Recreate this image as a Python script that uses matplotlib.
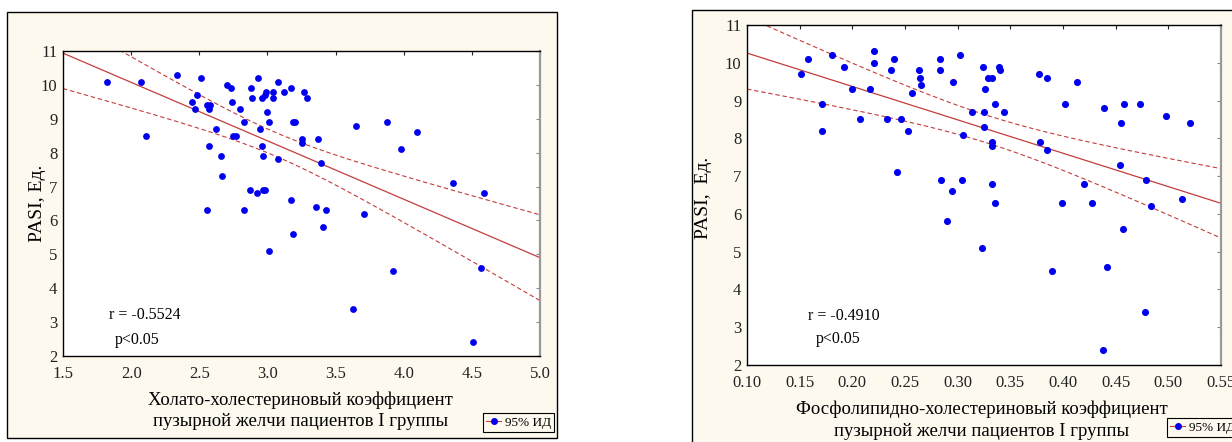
import numpy as np
import matplotlib
matplotlib.use("Agg")
import matplotlib.pyplot as plt
from matplotlib.patches import Rectangle
from matplotlib.lines import Line2D

plt.rcParams['font.family'] = ['Liberation Serif', 'DejaVu Serif']

# Левая панель: холато-холестериновый коэффициент / PASI
chol_x = [1.82, 2.07, 2.11, 2.34, 2.51, 2.45, 2.48, 2.47, 2.56, 2.58,
          2.57, 2.62, 2.57, 2.66, 2.67, 2.70, 2.73, 2.74, 2.80, 2.83,
          2.75, 2.77, 2.88, 2.89, 2.93, 2.945, 2.96, 2.97, 2.96, 2.98,
          2.99, 3.00, 3.01, 3.04, 3.04, 3.08, 3.08, 3.12, 3.17, 3.19,
          3.20, 3.17, 3.25, 3.25, 3.27, 3.29, 3.37, 3.39, 3.36, 2.87,
          2.92, 2.97, 2.98, 2.56, 2.83, 3.65, 3.88, 4.10, 3.98, 4.36,
          4.59, 3.43, 3.71, 3.41, 3.92, 3.63, 4.57, 4.51, 3.19, 3.01]
chol_pasi = [10.1, 10.1, 8.5, 10.3, 10.2, 9.5, 9.7, 9.3, 9.4, 9.4,
             9.3, 8.7, 8.2, 7.9, 7.3, 10.0, 9.9, 9.5, 9.3, 8.9,
             8.5, 8.5, 9.9, 9.6, 10.2, 8.7, 8.2, 7.9, 9.6, 9.7,
             9.8, 9.2, 8.9, 9.8, 9.6, 10.1, 7.8, 9.8, 9.9, 8.9,
             8.9, 6.6, 8.4, 8.3, 9.8, 9.6, 8.4, 7.7, 6.4, 6.9,
             6.8, 6.9, 6.9, 6.3, 6.3, 8.8, 8.9, 8.6, 8.1, 7.1,
             6.8, 6.3, 6.2, 5.8, 4.5, 3.4, 4.6, 2.4, 5.6, 5.1]

# Правая панель: фосфолипидно-холестериновый коэффициент / PASI
phos_x = [0.151, 0.158, 0.171, 0.171, 0.181, 0.192, 0.200, 0.207, 0.217, 0.221,
          0.221, 0.233, 0.237, 0.240, 0.242, 0.246, 0.253, 0.257, 0.263, 0.264,
          0.265, 0.283, 0.283, 0.284, 0.295, 0.296, 0.302, 0.304, 0.305, 0.290,
          0.324, 0.339, 0.340, 0.329, 0.333, 0.326, 0.314, 0.325, 0.335, 0.344,
          0.325, 0.333, 0.333, 0.377, 0.385, 0.413, 0.402, 0.439, 0.458, 0.473,
          0.455, 0.498, 0.521, 0.378, 0.385, 0.454, 0.479, 0.333, 0.335, 0.399,
          0.428, 0.420, 0.484, 0.513, 0.457, 0.323, 0.390, 0.442, 0.478, 0.438]
phos_pasi = [9.7, 10.1, 8.9, 8.2, 10.2, 9.9, 9.3, 8.5, 9.3, 10.3,
             10.0, 8.5, 9.8, 10.1, 7.1, 8.5, 8.2, 9.2, 9.8, 9.6,
             9.4, 10.1, 9.8, 6.9, 6.6, 9.5, 10.2, 6.9, 8.1, 5.8,
             9.9, 9.9, 9.8, 9.6, 9.6, 9.3, 8.7, 8.7, 8.9, 8.7,
             8.3, 7.9, 7.8, 9.7, 9.6, 9.5, 8.9, 8.8, 8.9, 8.9,
             8.4, 8.6, 8.4, 7.9, 7.7, 7.3, 6.9, 6.8, 6.3, 6.3,
             6.3, 6.8, 6.2, 6.4, 5.6, 5.1, 4.5, 4.6, 3.4, 2.4]

chol_ticks = [1.5, 2.0, 2.5, 3.0, 3.5, 4.0, 4.5, 5.0]
phos_ticks = [0.10, 0.15, 0.20, 0.25, 0.30, 0.35, 0.40, 0.45, 0.50, 0.55]
pasi_ticks = [2, 3, 4, 5, 6, 7, 8, 9, 10, 11]

W, H = 1232, 442
CREAM = '#fdf9ef'
DOT = '#0000ee'
LINE = '#c43c3c'
T975 = 1.995  # t(0.975, df=68)


def fx(px):
    return px / W


def fy(py):
    return 1 - py / H


def regression(ax, x, y, xlim):
    x = np.asarray(x)
    y = np.asarray(y)
    b, a = np.polyfit(x, y, 1)
    n = len(x)
    resid = y - (a + b * x)
    s = np.sqrt(np.sum(resid ** 2) / (n - 2))
    sxx = np.sum((x - x.mean()) ** 2)
    xs = np.linspace(xlim[0], xlim[1], 200)
    yh = a + b * xs
    half = T975 * s * np.sqrt(1 / n + (xs - x.mean()) ** 2 / sxx)
    ax.plot(xs, yh, color=LINE, lw=0.9, zorder=2)
    ax.plot(xs, yh + half, color=LINE, lw=0.8, ls=(0, (4, 2.5)), zorder=2)
    ax.plot(xs, yh - half, color=LINE, lw=0.8, ls=(0, (4, 2.5)), zorder=2)


def style_axes(ax, xticks, fmt):
    ax.set_zorder(2)
    ax.set_facecolor('white')
    ax.set_ylim(2, 11)
    ax.set_yticks(pasi_ticks)
    ax.set_xticks(xticks)
    ax.set_xticklabels([fmt.format(t) for t in xticks])
    ax.tick_params(top=True, right=True, bottom=False, left=False,
                   direction='in', length=3, width=0.8, labelsize=12,
                   colors='#222222')
    ax.tick_params(axis='x', pad=7)
    ax.tick_params(axis='y', pad=4, color='#888888')
    for side in ['left', 'bottom', 'top']:
        ax.spines[side].set_color('black')
        ax.spines[side].set_linewidth(1.0)
    ax.spines['right'].set_color('#999999')
    ax.spines['right'].set_linewidth(1.6)


fig = plt.figure(figsize=(W / 100, H / 100), dpi=100)
fig.patch.set_facecolor('white')

# рамки панелей
fig.patches.append(Rectangle((fx(7), fy(438)), fx(550), 426 / H, transform=fig.transFigure,
                             facecolor=CREAM, edgecolor='black', lw=1.0, zorder=-1))
fig.patches.append(Rectangle((fx(692), fy(452)), fx(560), 442 / H, transform=fig.transFigure,
                             facecolor=CREAM, edgecolor='black', lw=1.0, zorder=-1))

# левая панель
ax1 = fig.add_axes([fx(63), fy(356), fx(477), 305 / H])
ax1.set_xlim(1.5, 5.0)
regression(ax1, chol_x, chol_pasi, (1.5, 5.0))
ax1.scatter(chol_x, chol_pasi, s=24, color=DOT, zorder=3, linewidths=0)
style_axes(ax1, chol_ticks, '{:.1f}')
ax1.text(1.84, 3.2, 'r = -0.5524', fontsize=11.5, va='center')
ax1.text(1.88, 2.47, 'p<0.05', fontsize=11.5, va='center')

fig.text(fx(38), fy(203), 'PASI, Ед.', rotation=90, ha='center', va='center', fontsize=14)
fig.text(fx(300), fy(400), 'Холато-холестериновый коэффициент', ha='center', va='center', fontsize=13.5)
fig.text(fx(301), fy(421), 'пузырной желчи пациентов I группы', ha='center', va='center', fontsize=13.5)

# правая панель
ax2 = fig.add_axes([fx(747), fy(365), fx(474), 340 / H])
ax2.set_xlim(0.10, 0.55)
regression(ax2, phos_x, phos_pasi, (0.10, 0.55))
ax2.scatter(phos_x, phos_pasi, s=26, color=DOT, zorder=3, linewidths=0)
style_axes(ax2, phos_ticks, '{:.2f}')
ax2.text(0.158, 3.29, 'r = -0.4910', fontsize=11.5, va='center')
ax2.text(0.165, 2.70, 'p<0.05', fontsize=11.5, va='center')

fig.text(fx(704), fy(198), 'PASI,  Ед.', rotation=90, ha='center', va='center', fontsize=14)
fig.text(fx(982), fy(409), 'Фосфолипидно-холестериновый коэффициент', ha='center', va='center', fontsize=13.5)
fig.text(fx(982), fy(431), 'пузырной желчи пациентов I группы', ha='center', va='center', fontsize=13.5)

# легенды
handle = Line2D([0], [0], color=LINE, lw=0.8, marker='o', ms=4, mfc=DOT, mec=DOT)
for left, top in [(483, 413), (1167, 418)]:
    leg = fig.legend([handle], ['95% ИД'], loc='upper left',
                     bbox_to_anchor=(fx(left), fy(top)), borderaxespad=0,
                     fontsize=9.5, handlelength=1.1, handletextpad=0.3,
                     borderpad=0.25, fancybox=False, framealpha=1)
    leg.get_frame().set_edgecolor('black')
    leg.get_frame().set_facecolor(CREAM)
    leg.get_frame().set_linewidth(0.8)

fig.savefig('out.png', dpi=100, facecolor='white')
